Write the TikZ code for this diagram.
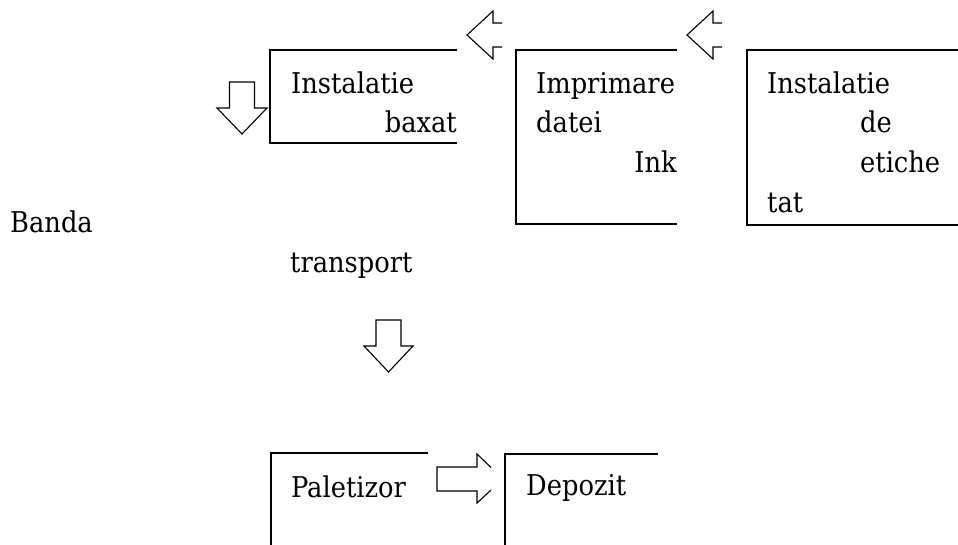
\documentclass[tikz,border=0pt]{standalone}
\usepackage{fontspec}
\setmainfont{DejaVu Serif Condensed}
\usetikzlibrary{positioning}

\begin{document}
\begin{tikzpicture}[
  x=1pt, y=-1pt,
  frame/.style={line width=1.6pt},
  blk/.style={line width=1.1pt, line join=miter},
  txt/.style={anchor=base west, inner sep=0pt, font=\fontsize{28.6}{34}\selectfont},
  txtr/.style={txt, anchor=base east}
]
\useasboundingbox (0,0) rectangle (958,544);
\clip (0,0) rectangle (958,544);

\draw[frame] (457,50) -- (270,50) -- (270,143) -- (457,143);
\draw[frame] (677,50) -- (516,50) -- (516,224) -- (677,224);
\draw[frame] (970,50) -- (747,50) -- (747,225) -- (970,225);
\draw[frame] (428,453) -- (271,453) -- (271,560);
\draw[frame] (658,454) -- (505,454) -- (505,560);

\begin{scope}
  \clip (270,50) rectangle (457,143);
  \node[txt] (baxInst) at (291,93) {Instalatie};
  \node[txtr] (baxat) at (457,132) {baxat};
\end{scope}
\begin{scope}
  \clip (516,50) rectangle (677,224);
  \node[txt] (impr) at (536,93) {Imprimare};
  \node[txt] (datei) at (536,132) {datei};
  \node[txtr] (ink) at (677,172) {Ink};
\end{scope}
\foreach \n/\x/\y/\t in {etInst/767/93/Instalatie, etDe/860/132/de,
  etIche/860/172/etiche, etTat/767/212/tat, banda/10/232/Banda,
  transp/290/272/transport, palet/291/497/Paletizor, depoz/526/495/Depozit}{
  \node[txt] (\n) at (\x,\y) {\t};
}

\draw[blk] (502,23) -- (493,23) -- (493,11) -- (467,35) -- (493,59) -- (493,47) -- (502,47);
\draw[blk] (722,23) -- (713,23) -- (713,11) -- (687,35) -- (713,59) -- (713,47) -- (722,47);

\draw[blk] (229.5,82) -- (254.5,82) -- (254.5,108) -- (267,108) -- (242,134)
  -- (217,108) -- (229.5,108) -- cycle;
\draw[blk] (376,320) -- (401,320) -- (401,346) -- (413,346) -- (388.5,372)
  -- (364,346) -- (376,346) -- cycle;

\begin{scope}
  \clip (430,440) rectangle (491,520);
  \draw[blk] (437,467) -- (477,467) -- (477,454) -- (503,479) -- (477,503)
    -- (477,491) -- (437,491) -- cycle;
\end{scope}

\end{tikzpicture}
\end{document}
